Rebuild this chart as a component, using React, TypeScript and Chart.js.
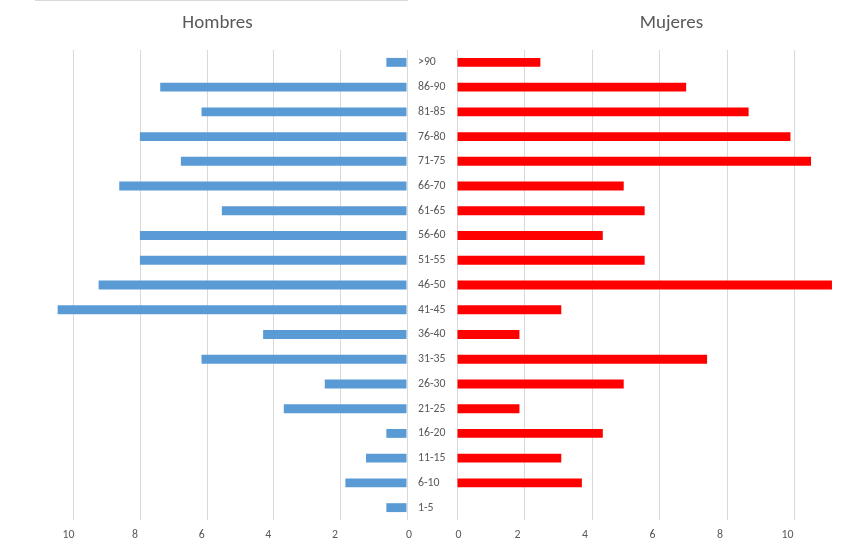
import React, { useEffect, useRef } from 'react';
import { Chart, registerables } from 'chart.js';

Chart.register(...registerables);

const categories = ['>90', '86-90', '81-85', '76-80', '71-75', '66-70', '61-65', '56-60', '51-55', '46-50', '41-45', '36-40', '31-35', '26-30', '21-25', '16-20', '11-15', '6-10', '1-5'];
const hombres = [0.62, 7.41, 6.17, 8.02, 6.79, 8.64, 5.56, 8.02, 8.02, 9.26, 10.49, 4.32, 6.17, 2.47, 3.70, 0.62, 1.23, 1.85, 0.62];
const mujeres = [2.47, 6.79, 8.64, 9.88, 10.49, 4.94, 5.56, 4.32, 5.56, 11.11, 3.09, 1.85, 7.41, 4.94, 1.85, 4.32, 3.09, 3.70, 0];
const xTickValues = [0, 2, 4, 6, 8, 10];
const axisMax = 11.2;

const TEXT = '#595959';
const GRID = '#D9D9D9';
const FONT_FAMILY = 'Calibri, Carlito, "Liberation Sans", Arial, sans-serif';
const FONT_SIZE = 11.8;

// Draws the value-axis labels at the library's tick pixels, nudged the way the reference places them.
const makeTickLabelPlugin = (zeroShift: number, otherShift: number) => ({
  id: 'xTickLabels',
  afterDraw(chart: any) {
    const s = chart.scales.x;
    const ctx = chart.ctx;
    ctx.save();
    ctx.font = `${FONT_SIZE}px ${FONT_FAMILY}`;
    ctx.fillStyle = TEXT;
    ctx.textAlign = 'center';
    ctx.textBaseline = 'alphabetic';
    for (const v of xTickValues) {
      const x = s.getPixelForValue(v) + (v === 0 ? zeroShift : otherShift);
      ctx.fillText(String(v), x, s.top + 17.5);
    }
    ctx.restore();
  },
});

export default function App() {
  const leftRef = useRef<HTMLCanvasElement>(null);
  const rightRef = useRef<HTMLCanvasElement>(null);

  useEffect(() => {
    const font = { family: FONT_FAMILY, size: FONT_SIZE };
    const keepTicks = (axis: any) => {
      axis.ticks = xTickValues.map((v) => ({ value: v }));
    };
    const xCommon = (reverse: boolean) => ({
      type: 'linear' as const,
      reverse,
      min: 0,
      max: axisMax,
      afterBuildTicks: keepTicks,
      afterFit: (s: any) => {
        s.height = 29;
      },
      grid: { color: GRID, drawTicks: false, lineWidth: 1 },
      border: { display: false },
      ticks: { display: false },
    });

    const left = new Chart(leftRef.current as HTMLCanvasElement, {
      type: 'bar',
      data: {
        labels: categories,
        datasets: [
          {
            label: 'Hombres',
            data: hombres,
            backgroundColor: '#5B9BD5',
            barPercentage: 0.36,
            categoryPercentage: 1,
          },
        ],
      },
      options: {
        indexAxis: 'y',
        responsive: false,
        animation: false,
        layout: { padding: { left: 34, top: 50, right: 0, bottom: 0 } },
        plugins: { legend: { display: false }, tooltip: { enabled: false }, title: { display: false } },
        scales: {
          x: xCommon(true) as any,
          y: {
            position: 'right',
            afterFit: (s: any) => {
              s.width = 51;
            },
            grid: { display: false, drawTicks: false },
            border: { display: false },
            ticks: { color: TEXT, font, padding: 11, autoSkip: false },
          },
        },
      },
      plugins: [makeTickLabelPlugin(2, -5.5)],
    });

    const right = new Chart(rightRef.current as HTMLCanvasElement, {
      type: 'bar',
      data: {
        labels: categories,
        datasets: [
          {
            label: 'Mujeres',
            data: mujeres,
            backgroundColor: '#FF0000',
            barPercentage: 0.36,
            categoryPercentage: 1,
          },
        ],
      },
      options: {
        indexAxis: 'y',
        responsive: false,
        animation: false,
        layout: { padding: { left: 10, top: 50, right: 31, bottom: 0 } },
        plugins: { legend: { display: false }, tooltip: { enabled: false }, title: { display: false } },
        scales: {
          x: xCommon(false) as any,
          y: {
            display: false,
            grid: { display: false },
          },
        },
      },
      plugins: [makeTickLabelPlugin(1.5, -7)],
    });

    return () => {
      left.destroy();
      right.destroy();
    };
  }, []);

  const titleStyle: React.CSSProperties = {
    position: 'absolute',
    top: 12,
    lineHeight: '20px',
    fontSize: 19,
    fontFamily: FONT_FAMILY,
    color: TEXT,
    whiteSpace: 'nowrap',
    transform: 'translateX(-50%)',
  };

  return (
    <div style={{ position: 'absolute', left: 0, top: 0, width: 866, height: 549, background: '#fff', overflow: 'hidden' }}>
      <div style={{ position: 'absolute', left: 35, top: 0, width: 373, height: 1, background: GRID }} />
      <canvas ref={leftRef} width={458} height={549} style={{ position: 'absolute', left: 0, top: 0, display: 'block' }} />
      <canvas ref={rightRef} width={419} height={549} style={{ position: 'absolute', left: 447, top: 0, display: 'block' }} />
      <div style={{ ...titleStyle, left: 217.5 }}>Hombres</div>
      <div style={{ ...titleStyle, left: 671.5 }}>Mujeres</div>
    </div>
  );
}
